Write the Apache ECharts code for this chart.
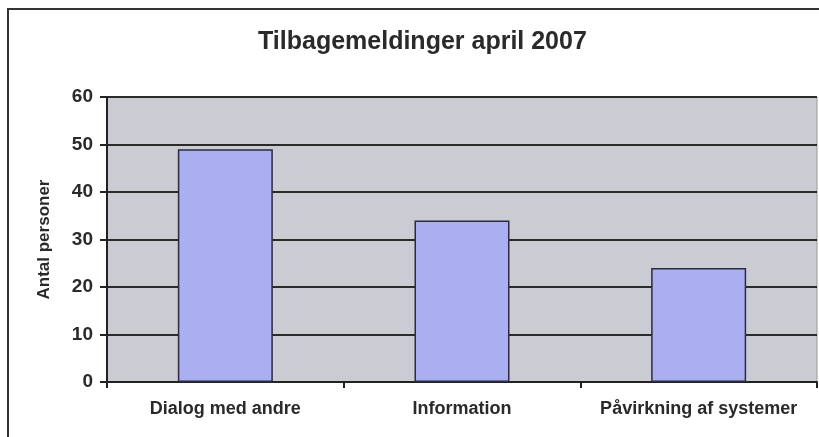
<!DOCTYPE html>
<html lang="en">
<head>
    <meta charset="UTF-8">
    <script src="https://cdn.jsdelivr.net/npm/echarts@6/dist/echarts.min.js"></script>
    <style>
        html, body { margin: 0; padding: 0; background: #fff; }
        #chart { width: 819px; height: 437px; }
    </style>
</head>
<body>
<div id="chart"></div>
<script type="text/javascript">
    // data
    const categories = ['Dialog med andre', 'Information', 'Påvirkning af systemer'];
    const values = [49, 34, 24];
    const yTicks = { min: 0, max: 60, interval: 10 };

    let chart = echarts.init(document.getElementById('chart'));

    let option = {
        backgroundColor: '#ffffff',
        animation: false,
        title: {
            text: 'Tilbagemeldinger april 2007',
            left: 253,
            top: 25,
            textStyle: {
                color: '#2a2a2a',
                fontFamily: 'Liberation Sans',
                fontWeight: 'bold',
                fontSize: 25
            }
        },
        // outer frame of the chart
        graphic: [{
            type: 'rect',
            shape: { x: 8, y: 9, width: 830, height: 450 },
            style: { fill: 'none', stroke: '#333', lineWidth: 2 },
            silent: true
        }],
        grid: {
            left: 107,
            right: 2,
            top: 97,
            bottom: 55,
            show: true,
            backgroundColor: '#cbcbd3',
            borderColor: '#999',
            borderWidth: 1
        },
        xAxis: {
            type: 'category',
            data: categories,
            axisLine: { lineStyle: { color: '#222', width: 2 } },
            axisTick: { show: true, interval: 0, length: 6, lineStyle: { color: '#222', width: 2 } },
            axisLabel: {
                interval: 0,
                hideOverlap: false,
                color: '#2a2a2a',
                fontFamily: 'Liberation Sans',
                fontWeight: 'bold',
                fontSize: 18,
                margin: 18
            }
        },
        yAxis: {
            type: 'value',
            min: yTicks.min,
            max: yTicks.max,
            interval: yTicks.interval,
            name: 'Antal personer',
            nameLocation: 'middle',
            nameGap: 54,
            nameTextStyle: {
                color: '#2a2a2a',
                fontFamily: 'Liberation Sans',
                fontWeight: 'bold',
                fontSize: 17
            },
            axisLine: { show: true, lineStyle: { color: '#222', width: 2 } },
            axisTick: { show: true, length: 7, lineStyle: { color: '#222', width: 2 } },
            axisLabel: {
                color: '#2a2a2a',
                fontFamily: 'Liberation Sans',
                fontWeight: 'bold',
                fontSize: 19,
                margin: 14
            },
            splitLine: { show: true, lineStyle: { color: '#2a2a2a', width: 2 } }
        },
        series: [{
            type: 'bar',
            data: values,
            barWidth: 95,
            itemStyle: {
                color: '#a9aff1',
                borderColor: '#2a2a40',
                borderWidth: 1.5
            }
        }]
    };

    chart.setOption(option);
</script>
</body>
</html>
